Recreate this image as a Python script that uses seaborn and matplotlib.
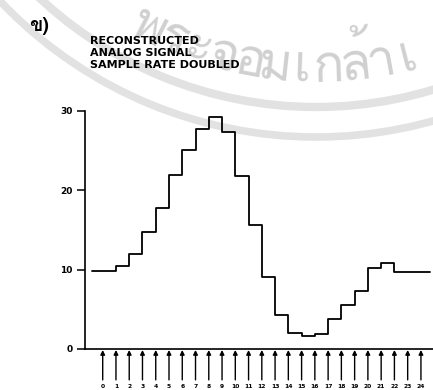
import numpy as np
import pandas as pd
import seaborn as sns
import matplotlib
matplotlib.use("Agg")
import matplotlib.pyplot as plt
from matplotlib import font_manager
from matplotlib.ft2font import FT2Font
from matplotlib.patches import Arc
from matplotlib.transforms import Affine2D

# ---- data ----
samples = list(range(25))
values = [9.8, 10.4, 11.9, 14.7, 17.8, 21.9, 25.1, 27.7, 29.2, 27.4,
          21.8, 15.6, 9.1, 4.3, 2.0, 1.6, 1.9, 3.7, 5.5, 7.3,
          10.2, 10.8, 9.7, 9.7, 9.7]
line_start = -0.83   # reconstructed signal begins a little before sample 0
line_end = 24.7      # and runs on past the last sample
y_ticks = [0, 10, 20, 30]
x_labels = [str(s) for s in samples]
title_lines = ["RECONSTRUCTED", "ANALOG SIGNAL", "SAMPLE RATE DOUBLED"]
panel_label = "ข)"
# faint watermark text (characters along an arc)
watermark_clusters = ["พ", "ร", "ะ", "จ", "อ", "ม", "เ", "ก", "ล้", "า", "เ"]


def find_font(ch):
    for f in font_manager.fontManager.ttflist:
        try:
            ft = FT2Font(f.fname)
            if ft.get_char_index(ord(ch)):
                return f.name
        except Exception:
            pass
    return None


sns.set_theme(style="white")
thai_font = find_font("ข")
plt.rcParams["font.family"] = ["DejaVu Sans"]
fam = [thai_font, "DejaVu Sans"] if thai_font else ["DejaVu Sans"]

df = pd.DataFrame({
    "x": [line_start] + samples + [line_end],
    "y": [values[0]] + values + [values[-1]],
})

W, H = 433, 390
fig = plt.figure(figsize=(W / 100, H / 100), dpi=100)
fig.patch.set_facecolor("white")
px = Affine2D().scale(1 / W, -1 / H).translate(0, 1) + fig.transFigure

# ---- watermark (behind everything) ----
cx, cy, r = 316, -298, 380
wm_color = "#d0d0d0"
for i, ch in enumerate(watermark_clusters):
    th = np.deg2rad(-27.05 + 4.15 * i)
    x = cx + r * np.sin(th)
    y = cy + r * np.cos(th)
    fig.text(x / W, 1 - y / H, ch, fontsize=37, family=fam, color=wm_color,
             rotation=np.rad2deg(th), rotation_mode="anchor",
             ha="center", va="baseline", zorder=-5)
for rad, lw in ((405, 6.0), (435, 5.5)):
    fig.add_artist(Arc((cx, cy), 2 * rad, 2 * rad, theta1=0, theta2=360,
                       transform=px, color="#e2e2e2", lw=lw, zorder=-6))

ax = fig.add_axes([85 / W, (H - 348.8) / H, (W - 85) / W, (348.8 - 111) / H])
ax.patch.set_alpha(0)

sns.lineplot(data=df, x="x", y="y", ax=ax, drawstyle="steps-post",
             color="black", linewidth=1.3, sort=True)

ax.set_xlim(-1.335, 24.91)
ax.set_ylim(0, 30)
ax.set_xlabel("")
ax.set_ylabel("")
for s in ["top", "right"]:
    ax.spines[s].set_visible(False)
for s in ["left", "bottom"]:
    ax.spines[s].set_color("black")
    ax.spines[s].set_linewidth(1.2)

ax.set_yticks(y_ticks)
ax.set_yticklabels([str(t) for t in y_ticks], fontsize=6.5, fontweight="bold")
ax.tick_params(axis="y", direction="out", length=5.5, width=1.1, pad=3.5,
               colors="black", left=True)
ax.set_xticks(samples)
ax.set_xticklabels(x_labels, fontsize=4.3, fontweight="bold")
ax.tick_params(axis="x", length=0, pad=25.2, colors="black")

# sample arrows beneath the axis
for s in samples:
    ax.annotate("", xy=(s, -0.15), xytext=(s, -3.92),
                xycoords="data", textcoords="data", annotation_clip=False,
                arrowprops=dict(arrowstyle="-|>", color="black", lw=1.0,
                                mutation_scale=6.5, shrinkA=0, shrinkB=0))

# texts
fig.text(29 / W, 1 - 26 / H, panel_label, fontsize=14, fontweight="bold",
         family=fam, ha="left", va="center", color="black")
for i, t in enumerate(title_lines):
    fig.text(90 / W, 1 - (41.5 + 11.7 * i) / H, t, fontsize=8.0,
             fontweight="bold", ha="left", va="center", color="black")

fig.savefig("out.png", dpi=100, facecolor="white")
